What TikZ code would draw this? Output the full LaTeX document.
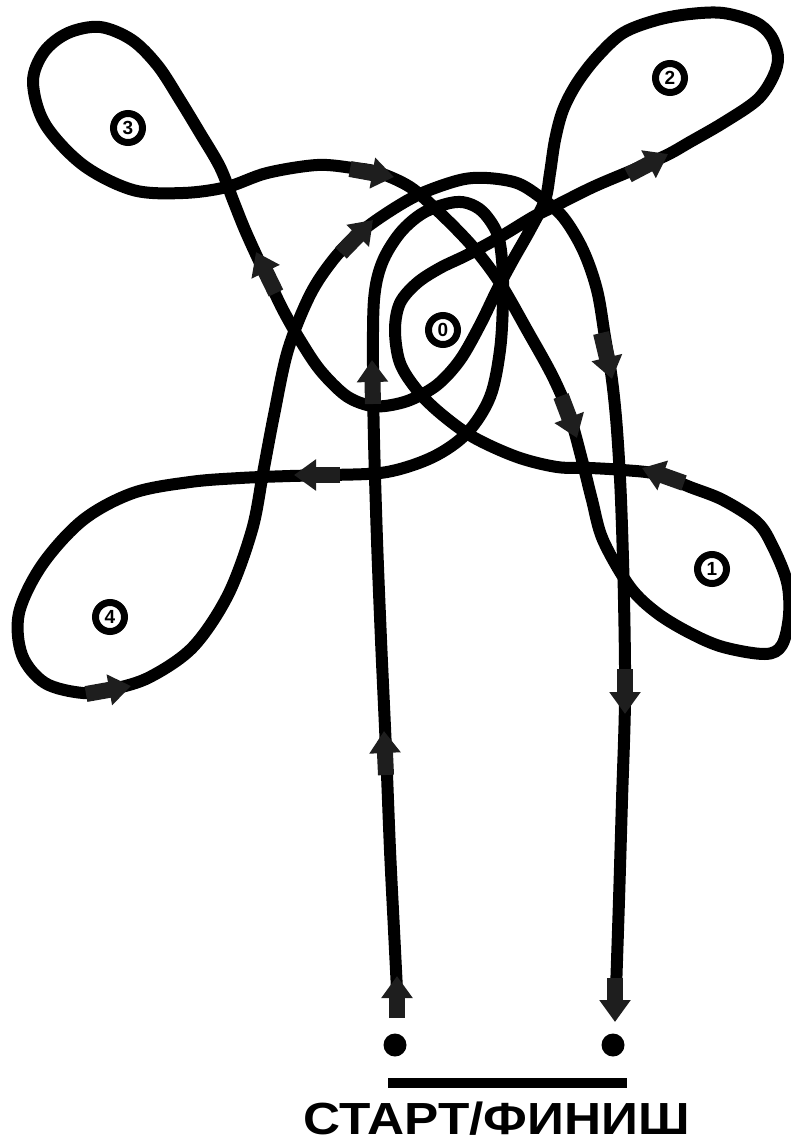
\documentclass[tikz,border=0pt]{standalone}
\usepackage{fontspec}
\setmainfont{Liberation Sans}
\usetikzlibrary{arrows.meta}
\definecolor{arrcol}{HTML}{1E1E1E}
\tikzset{
  route/.style={line width=12pt, black, line join=round},
  arrowmark/.style={line width=16pt, arrcol, -{Triangle[width=30pt,length=22pt]}},
  numlabel/.style={circle, draw=black, line width=7pt, fill=white, minimum size=29pt, inner sep=0pt, font=\fontsize{19}{19}\selectfont\bfseries},
  dot/.style={circle, fill=black, minimum size=23pt, inner sep=0pt},
}
\begin{document}
\begin{tikzpicture}[x=1pt,y=-1pt]
\useasboundingbox (0,0) rectangle (790,1146);
% main route: start -> loop 4 -> finish
\draw[route] plot[smooth, tension=0.55] coordinates {
(397,990) (394,930) (390,850) (386,750) (381,640) (377,540) (374,440) (373,370) (374,300) (382,263) (400,233) (423,213) (450,203) (467,203) (483,212) (497,233) (502,260) (503,300) (500,350) (490,397) (467,433) (433,457) (387,472) (333,475) (290,476) (240,478) (190,482) (133,493) (83,520) (42,565) (19,613) (22,655) (45,683) (83,693) (113,689) (150,677) (193,647) (228,595) (252,530) (263,473) (274,415) (288,350) (310,295) (333,260) (357,235) (387,213) (420,194) (460,180) (487,178) (517,183) (540,197) (563,217) (583,250) (597,290) (605,337) (612,380) (617,430) (621,500) (624,600) (625,700) (622,800) (619,900) (616,990)};
% closed route: loops 3, 1, 0, 2
\draw[route] plot[smooth cycle, tension=0.55] coordinates {
(267,173) (317,165) (353,168) (377,172) (410,187) (440,213) (473,247) (500,283) (527,330) (553,377) (570,417) (582,460) (592,500) (603,540) (630,587) (657,613) (690,633) (723,647) (765,654) (782,645) (789,615) (787,582) (773,547) (757,522) (723,500) (690,487) (657,474) (623,470) (590,468) (557,467) (517,457) (473,437) (440,413) (417,390) (400,363) (395,330) (400,303) (417,283) (440,268) (467,255) (500,237) (533,217) (553,207) (593,187) (633,170) (667,155) (690,142) (723,123) (757,100) (773,77) (778,57) (771,36) (755,22) (723,13) (690,14) (657,20) (623,33) (597,57) (577,83) (563,110) (555,140) (550,173) (545,200) (530,230) (513,260) (497,290) (480,325) (460,360) (437,385) (410,400) (385,406) (367,405) (345,395) (320,370) (300,340) (283,310) (270,283) (260,263) (245,230) (233,200) (220,167) (200,133) (180,100) (158,66) (132,40) (100,27) (68,33) (44,52) (33,82) (45,124) (83,165) (133,190) (183,193) (227,187)};
% arrows
\draw[arrowmark] (397,1018) -- (397,976);
\draw[arrowmark] (386,775) -- (384,731);
\draw[arrowmark] (373,404) -- (372,360);
\draw[arrowmark] (340,475) -- (294,475);
\draw[arrowmark] (86,694) -- (131,686);
\draw[arrowmark] (341,253) -- (373,220);
\draw[arrowmark] (601,333) -- (612,379);
\draw[arrowmark] (625,669) -- (625,714);
\draw[arrowmark] (615,978) -- (615,1022);
\draw[arrowmark] (350,169) -- (394,177);
\draw[arrowmark] (276,293) -- (256,252);
\draw[arrowmark] (561,396) -- (577,438);
\draw[arrowmark] (684,483) -- (642,468);
\draw[arrowmark] (628,175) -- (668,154);
% labels
\node[numlabel] (l0) at (443,330) {0};
\node[numlabel] (l1) at (712,569) {1};
\node[numlabel] (l2) at (670,78) {2};
\node[numlabel] (l3) at (128,128) {3};
\node[numlabel] (l4) at (110,617) {4};
% start / finish
\node[dot] (start) at (395,1045) {};
\node[dot] (finish) at (613,1045) {};
\draw[line width=10pt] (388,1083) -- (627,1083);
\node[anchor=base, inner sep=0pt, font=\fontsize{45}{45}\selectfont\bfseries] (title) at (497,1134) {\scalebox{1.14}[1]{СТАРТ/ФИНИШ}};
\end{tikzpicture}
\end{document}
